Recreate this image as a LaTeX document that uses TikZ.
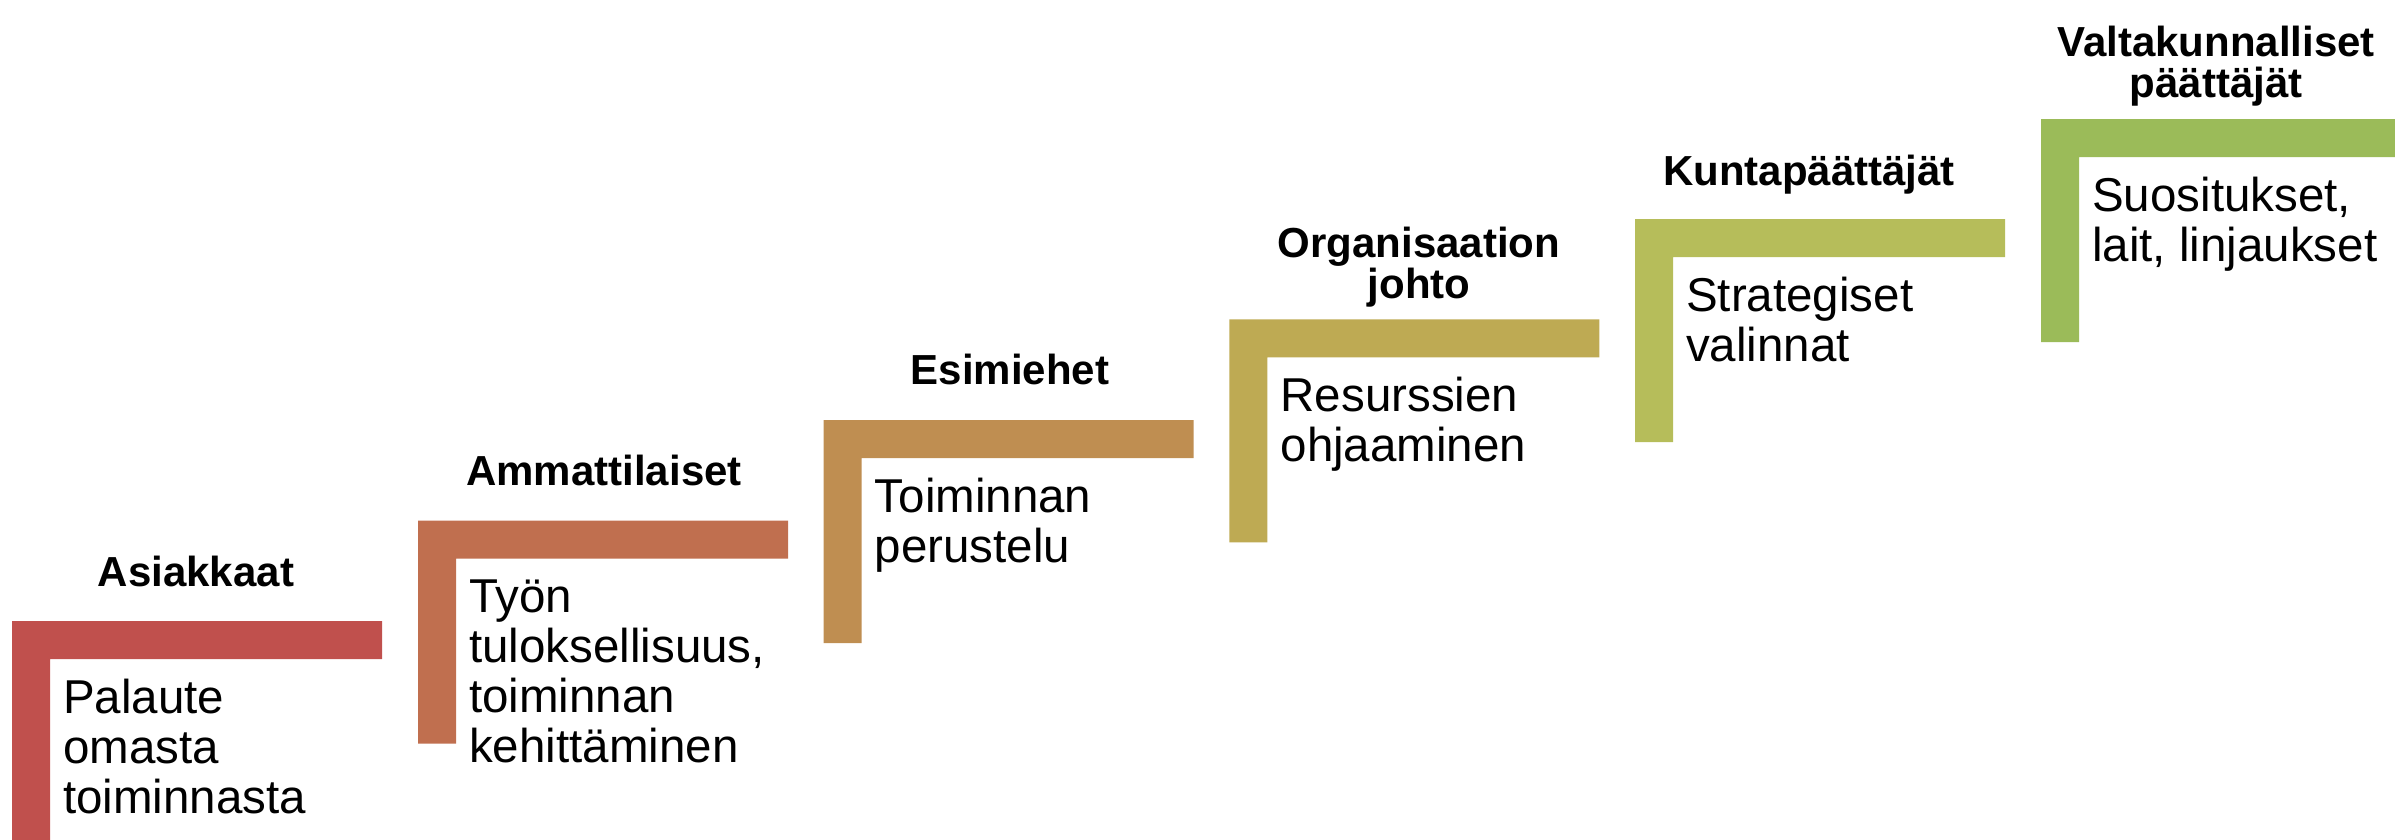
\documentclass[tikz,border=0pt]{standalone}
\usepackage{fontspec}
\setmainfont{Liberation Sans}
\definecolor{c1}{HTML}{C0504D}
\definecolor{c2}{HTML}{C06F4F}
\definecolor{c3}{HTML}{BF8E51}
\definecolor{c4}{HTML}{BEAA53}
\definecolor{c5}{HTML}{B6BD5A}
\definecolor{c6}{HTML}{9BBB59}
\tikzset{
  head/.style={anchor=base, align=center, inner sep=0pt, font=\bfseries\fontsize{42pt}{41pt}\selectfont},
  body/.style={anchor=base west, align=left, inner sep=0pt, font=\fontsize{47.5pt}{50pt}\selectfont},
}
\newcommand{\lstep}[4]{% name, x, y, colour
  \coordinate (#1) at (#2,#3);
  \fill[#4] (#1) -- ++(370,0) -- ++(0,38) -- ++(-332,0) -- ++(0,185) -- ++(-38,0) -- cycle;
}
\begin{document}
\begin{tikzpicture}[x=1pt,y=-1pt]
\useasboundingbox (0,0) rectangle (2395,839);
\clip (0,0) rectangle (2395,839);
\lstep{s1}{12}{621}{c1}
\lstep{s2}{418}{520.6}{c2}
\lstep{s3}{823.6}{420}{c3}
\lstep{s4}{1229.4}{319.4}{c4}
\lstep{s5}{1635}{219}{c5}
\lstep{s6}{2041}{119}{c6}

% base anchor of a multi-line node is the baseline of its last line
\node[head] (h1) at (196,586) {Asiakkaat};
\node[head] (h2) at (604,485) {Ammattilaiset};
\node[head] (h3) at (1010,384) {Esimiehet};
\node[head] (h4) at (1419,298) {Organisaation\\johto};
\node[head] (h5) at (1809,185) {Kuntapäättäjät};
\node[head] (h6) at (2216,97) {Valtakunnalliset\\päättäjät};

\node[body] (b1) at ([shift={(51,192)}]s1) {Palaute\\omasta\\toiminnasta};
\node[body] (b2) at ([shift={(51,242)}]s2) {Työn\\tuloksellisuus,\\toiminnan\\kehittäminen};
\node[body] (b3) at ([shift={(51,142)}]s3) {Toiminnan\\perustelu};
\node[body] (b4) at ([shift={(51,142)}]s4) {Resurssien\\ohjaaminen};
\node[body] (b5) at ([shift={(51,142)}]s5) {Strategiset\\valinnat};
\node[body] (b6) at ([shift={(51,142)}]s6) {Suositukset,\\lait, linjaukset};
\end{tikzpicture}
\end{document}
